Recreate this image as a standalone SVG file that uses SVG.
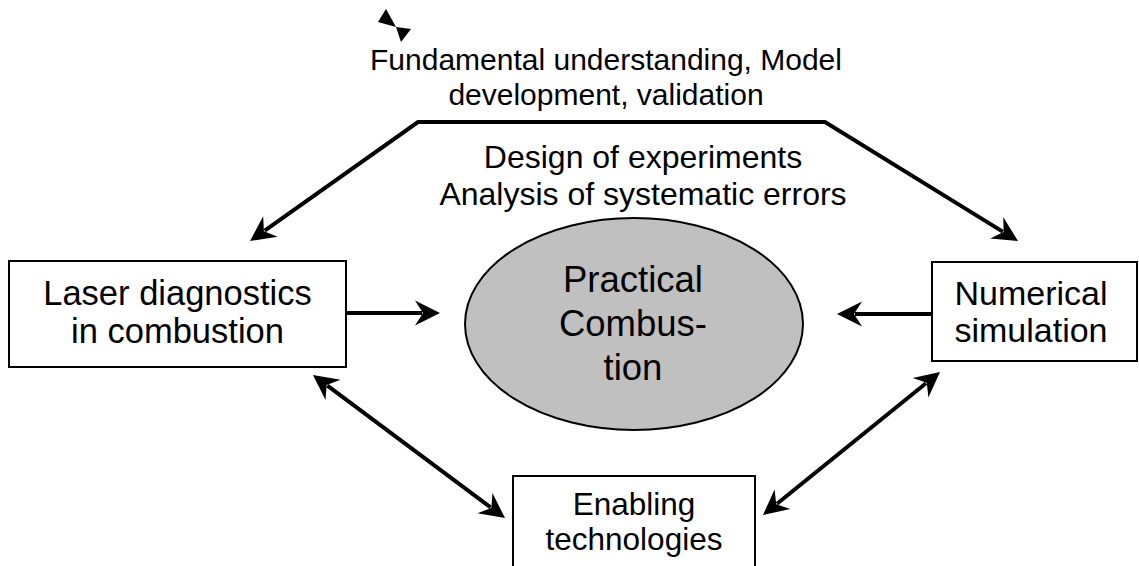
<svg xmlns="http://www.w3.org/2000/svg" width="1139" height="566" viewBox="0 0 1139 566">
<style>
.box{fill:#fff;stroke:#000;stroke-width:2}
.t{font-family:"Liberation Sans",Arial,sans-serif;fill:#000;text-anchor:middle}
.c{fill:none;stroke:#000;stroke-width:4}
</style>
<defs>
<marker id="ah" markerUnits="userSpaceOnUse" markerWidth="60" markerHeight="60" refX="0" refY="0" orient="auto-start-reverse" overflow="visible">
<path d="M18,0 L-7,-12.5 L1,0 L-7,12.5 Z" fill="#000"/>
</marker>
</defs>
<rect width="1139" height="566" fill="#fff"/>
<g id="connectors">
<polyline class="c" points="264.7,230.6 418,122 825,122 1002.7,231.6" marker-start="url(#ah)" marker-end="url(#ah)"/>
<line class="c" x1="346" y1="313" x2="422" y2="313" marker-end="url(#ah)"/>
<line class="c" x1="932" y1="314" x2="855" y2="314" marker-end="url(#ah)"/>
<line class="c" x1="327.4" y1="385.7" x2="490.6" y2="507.3" marker-start="url(#ah)" marker-end="url(#ah)"/>
<line class="c" x1="926" y1="383.3" x2="777" y2="503.7" marker-start="url(#ah)" marker-end="url(#ah)"/>
<polygon points="386,9 378,22 396,27" fill="#000"/>
<polygon points="396,27 411,29 401,42" fill="#000"/>
</g>
<g id="top-label">
<text class="t" x="606" y="70" font-size="30">Fundamental understanding, Model</text>
<text class="t" x="606" y="105" font-size="30">development, validation</text>
</g>
<g id="center-label">
<text class="t" x="643" y="168" font-size="32">Design of experiments</text>
<text class="t" x="643" y="205" font-size="32">Analysis of systematic errors</text>
</g>
<g id="laser">
<rect class="box" x="9" y="261" width="337" height="106"/>
<text class="t" x="177.5" y="305" font-size="34.5">Laser diagnostics</text>
<text class="t" x="177.5" y="343" font-size="34.5">in combustion</text>
</g>
<g id="practical">
<ellipse cx="634" cy="324" rx="169" ry="106" fill="#c0c0c0" stroke="#000" stroke-width="2"/>
<text class="t" x="633" y="292" font-size="36.5">Practical</text>
<text class="t" x="633" y="336" font-size="36.5">Combus-</text>
<text class="t" x="633" y="380" font-size="36.5">tion</text>
</g>
<g id="numerical">
<rect class="box" x="932" y="262" width="205" height="99"/>
<text class="t" x="1031" y="305" font-size="34">Numerical</text>
<text class="t" x="1031" y="342" font-size="34">simulation</text>
</g>
<g id="enabling">
<rect class="box" x="513" y="476" width="242" height="100"/>
<text class="t" x="634" y="515" font-size="31.5">Enabling</text>
<text class="t" x="634" y="550" font-size="31.5">technologies</text>
</g>
</svg>
